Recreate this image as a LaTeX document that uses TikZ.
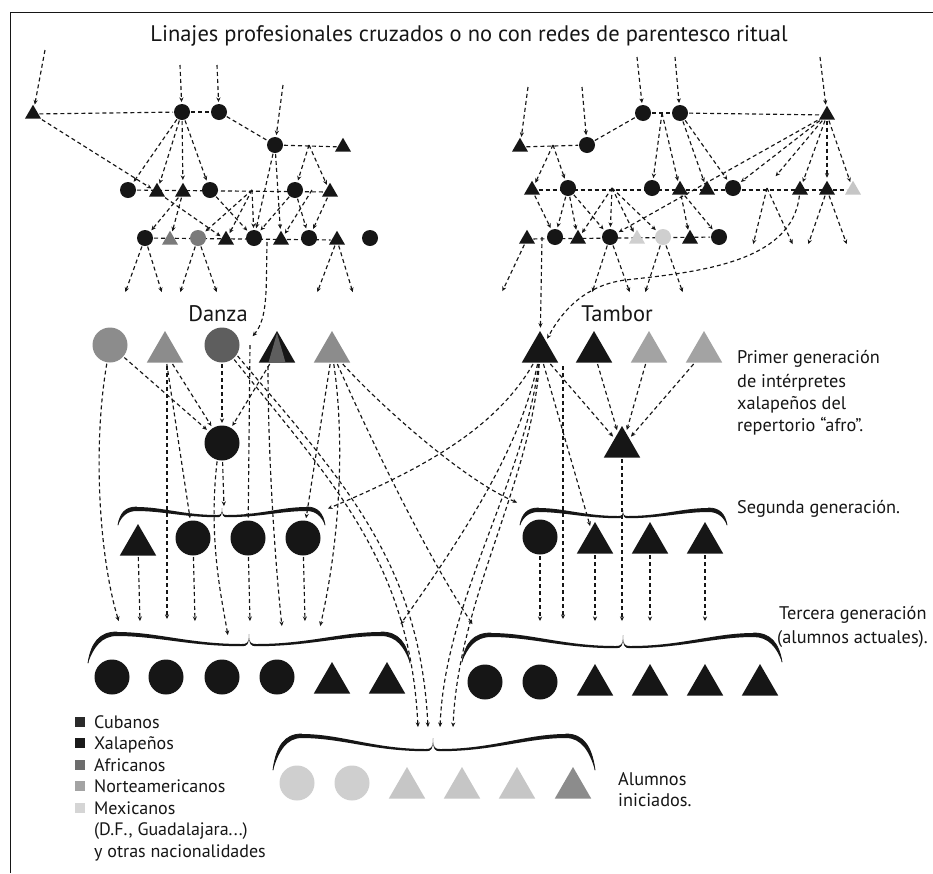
\documentclass[tikz,border=0pt]{standalone}
\usepackage{fontspec}
\setmainfont{PT Sans}
\usetikzlibrary{arrows.meta,shapes.geometric}
\pgfdeclarelayer{bg}
\pgfsetlayers{bg,main}
\definecolor{blk}{HTML}{161616}
\definecolor{gA}{HTML}{8C8C8C}
\definecolor{gB}{HTML}{5E5E5E}
\definecolor{gC}{HTML}{A3A3A3}
\definecolor{gD}{HTML}{CFCFCF}
\definecolor{gE}{HTML}{7A7A7A}
\definecolor{gF}{HTML}{C6C6C6}
\definecolor{kcu}{HTML}{2A2A2A}
\definecolor{kxa}{HTML}{1A1A1A}
\definecolor{kaf}{HTML}{6D6D6D}
\definecolor{kno}{HTML}{A3A3A3}
\definecolor{kme}{HTML}{D5D5D5}
\newcommand\hbr[6]{%
 \pgfmathsetmacro\bdx{#2-(#1)}%
 \pgfmathsetmacro\bxa{#1+0.02*\bdx}%
 \pgfmathsetmacro\bya{#3+0.35*(#6-#3)}%
 \pgfmathsetmacro\bxb{#1+0.07*\bdx}%
 \pgfmathsetmacro\bxaa{#1+0.035*\bdx}%
 \pgfmathsetmacro\byaa{#3+0.42*(#6-#3)+2}%
 \pgfmathsetmacro\bxbb{#1+0.085*\bdx}%
 \pgfmathsetmacro\bxs{#1+0.18*\bdx}%
 \pgfmathsetmacro\bxc{\bxs+0.3*(#2-\bxs)}%
 \pgfmathsetmacro\bxd{#2-0.45*(#2-\bxs)}%
 \pgfmathsetmacro\bxm{#2-0.045*\bdx}%
 \pgfmathsetmacro\bxe{#2-0.012*\bdx}%
 \pgfmathsetmacro\bys{#3+4}%
 \pgfmathsetmacro\bym{#4+2.2}%
 \pgfmathsetmacro\bymu{#4-1}%
 \pgfmathsetmacro\bymd{#4+1}%
 \fill[blk] (#1,#6) .. controls (\bxa,\bya) and (\bxb,#3) .. (\bxs,#3)
  .. controls (\bxc,#3) and (\bxd,#4) .. (\bxm,#4)
  .. controls (\bxe,#4) and (#2,\bymu) .. (#2,#5)
  .. controls (#2,\bymd) and (\bxe,\bym) .. (\bxm,\bym)
  .. controls (\bxd,\bym) and (\bxc,\bys) .. (\bxs,\bys)
  .. controls (\bxbb,\bys) and (\bxaa,\byaa) .. (#1,#6) -- cycle;
 \draw[blk,line width=0.8pt,line cap=round] (#1,#6) .. controls (\bxa,\bya) and (\bxb,#3) .. (\bxs,#3);
}
\tikzset{
 ln/.style={draw=blk,line width=1.15pt,dash pattern=on 4pt off 3pt},
 ar/.style={ln,-{Stealth[length=4.6pt,width=4.2pt]},shorten >=1pt},
 sc/.style={circle,fill=blk,minimum size=16pt,inner sep=0pt,outer sep=1pt},
 st/.style={regular polygon,regular polygon sides=3,fill=blk,minimum size=18.5pt,inner sep=0pt,outer sep=1pt},
 bc/.style={circle,fill=blk,minimum size=35pt,inner sep=0pt,outer sep=1.5pt},
 bt/.style={regular polygon,regular polygon sides=3,fill=blk,minimum size=42pt,inner sep=0pt,outer sep=1.5pt},
 big/.style={font=\fontsize{22.5}{26}\selectfont,inner sep=0pt,text=blk,anchor=base},
 lab/.style={font=\fontsize{18.3}{22}\selectfont,inner sep=0pt,text=blk,anchor=base west},
 leg/.style={font=\fontsize{18}{21}\selectfont,inner sep=0pt,text=blk,anchor=base west},
 sqk/.style={minimum size=10pt,inner sep=0pt},
}
\begin{document}
\begin{tikzpicture}[x=1pt,y=-1pt]
\useasboundingbox (0,0) rectangle (933,873);
\begin{pgfonlayer}{bg}
\fill[white] (0,0) rectangle (933,873);
\end{pgfonlayer}
\draw[blk,line width=1pt] (10,873) -- (10,12) -- (933,12);
\node[big] (title) at (469,41) {Linajes profesionales cruzados o no con redes de parentesco ritual};
% ---------- top-left lineages
\node[st] (tA) at (33,114) {};
\node[sc] (cA1) at (182,112) {};
\node[sc] (cA2) at (219,112) {};
\node[sc] (cB) at (275,145) {};
\node[st] (tB) at (343,147) {};
\node[sc] (l2a) at (128,190) {};
\node[st] (l2b) at (157,192) {};
\node[st] (l2c) at (183,192) {};
\node[sc] (l2d) at (210,190) {};
\node[sc] (l2e) at (295,190) {};
\node[st] (l2f) at (330,192) {};
\node[sc] (l3a) at (145,238) {};
\node[st,fill=gE] (l3b) at (170,240) {};
\node[sc,fill=gE] (l3c) at (198,238) {};
\node[st] (l3d) at (226,240) {};
\node[sc] (l3e) at (254,238) {};
\node[st] (l3f) at (281,240) {};
\node[sc] (l3g) at (309,238) {};
\node[st] (l3h) at (337,240) {};
\node[sc] (l3i) at (370,238) {};
% ---------- top-right lineages
\node[sc] (rA1) at (643,113) {};
\node[sc] (rA2) at (680,113) {};
\node[st] (rAt) at (827,115) {};
\node[st] (rB1) at (520,147) {};
\node[sc] (rB2) at (587,145) {};
\node[st] (r2a) at (532,190) {};
\node[sc] (r2b) at (568,188) {};
\node[sc] (r2c) at (652,188) {};
\node[st] (r2d) at (680,190) {};
\node[st] (r2e) at (707,190) {};
\node[sc] (r2f) at (733,188) {};
\node[st] (r2g) at (800,190) {};
\node[st] (r2h) at (827,190) {};
\node[st,fill=gF] (r2i) at (853,190) {};
\node[st] (r3a) at (527,239) {};
\node[sc] (r3b) at (555,237) {};
\node[st] (r3c) at (578,239) {};
\node[sc] (r3d) at (610,237) {};
\node[st,fill=gD] (r3e) at (637,239) {};
\node[sc,fill=gD] (r3f) at (663,237) {};
\node[st] (r3g) at (690,239) {};
\node[sc] (r3h) at (719,237) {};
% ---------- first generation
\node[big] (danza) at (218,321) {Danza};
\node[big] (tambor) at (617,321) {Tambor};
\node[bc,fill=gA] (d1) at (110,345) {};
\node[bt,fill=gA] (d2) at (165,352) {};
\node[bc,fill=gB] (d3) at (222,345) {};
\node[bt] (d4) at (277,352) {};
\fill[gB] (277,333) -- (268.5,362.5) -- (285.5,362.5) -- cycle;
\node[bt,fill=gA] (d5) at (332,352) {};
\node[bc] (dm) at (222,443) {};
\node[bt] (m1) at (540,352) {};
\node[bt] (m2) at (594,352) {};
\node[bt,fill=gC] (m3) at (649,352) {};
\node[bt,fill=gC] (m4) at (704,352) {};
\node[bt] (mm) at (622,447) {};
% ---------- second generation
\node[bt] (s1) at (138,545) {};
\node[bc] (s2) at (193,538) {};
\node[bc] (s3) at (248,538) {};
\node[bc] (s4) at (303,538) {};
\node[bc] (s5) at (540,537) {};
\node[bt] (s6) at (595,543) {};
\node[bt] (s7) at (650,543) {};
\node[bt] (s8) at (705,543) {};
% ---------- third generation
\node[bc] (t1) at (112,677) {};
\node[bc] (t2) at (166,677) {};
\node[bc] (t3) at (222,677) {};
\node[bc] (t4) at (277,677) {};
\node[bt] (t5) at (332,683) {};
\node[bt] (t6) at (387,683) {};
\node[bc] (t7) at (485,682) {};
\node[bc] (t8) at (540,682) {};
\node[bt] (t9) at (595,685) {};
\node[bt] (t10) at (650,685) {};
\node[bt] (t11) at (705,685) {};
\node[bt] (t12) at (760,685) {};
% ---------- initiated students
\node[bc,fill=gD] (a1) at (297,783) {};
\node[bc,fill=gD] (a2) at (352,783) {};
\node[bt,fill=gF] (a3) at (407,788) {};
\node[bt,fill=gF] (a4) at (462,788) {};
\node[bt,fill=gF] (a5) at (517,788) {};
\node[bt,fill=gA] (a6) at (573,788) {};
% ---------- braces
\hbr{118}{222}{507}{515}{508}{525}\hbr{325}{222}{507}{515}{508}{525}
\hbr{520}{623}{508}{516}{510}{525}\hbr{727}{623}{508}{516}{510}{525}
\hbr{88}{249}{632}{644}{634}{663}\hbr{410}{249}{632}{644}{634}{663}
\hbr{462}{623}{633}{646}{635}{662}\hbr{782}{623}{633}{646}{635}{662}
\hbr{273}{433}{734}{749}{738}{770}\hbr{595}{433}{734}{749}{738}{770}
% ---------- labels
\node[lab] (p1) at (737,363) {Primer generación};
\node[lab] (p2) at (737,387) {de intérpretes};
\node[lab] (p3) at (737,409) {xalapeños del};
\node[lab] (p4) at (737,431) {repertorio “afro”.};
\node[lab] (sg) at (737,513) {Segunda generación.};
\node[lab] (tg1) at (779,619) {Tercera generación};
\node[lab] (tg2) at (777,643) {(alumnos actuales).};
\node[lab] (al1) at (618,785) {Alumnos};
\node[lab] (al2) at (618,806) {iniciados.};
% ---------- legend
\node[sqk,fill=kcu] (k1) at (80,722) {};
\node[sqk,fill=kxa] (k2) at (80,743) {};
\node[sqk,fill=kaf] (k3) at (80,765) {};
\node[sqk,fill=kno] (k4) at (80,786) {};
\node[sqk,fill=kme] (k5) at (80,808) {};
\node[leg] (k1t) at (94,728) {Cubanos};
\node[leg] (k2t) at (94,749) {Xalapeños};
\node[leg] (k3t) at (94,771) {Africanos};
\node[leg] (k4t) at (94,792) {Norteamericanos};
\node[leg] (k5t) at (94,814) {Mexicanos};
\node[leg] (k6t) at (94,835) {(D.F., Guadalajara...)};
\node[leg] (k7t) at (94,857) {y otras nacionalidades};
% ---------- connectors
\begin{pgfonlayer}{bg}
% top-left
\coordinate (iA) at (45,50);
\coordinate (iA1) at (180,65);
\coordinate (iA2) at (217,65);
\coordinate (iB) at (283,85);
\draw[ar] (iA) -- (tA);
\draw[ar] (iA1) -- (cA1);
\draw[ar] (iA2) -- (cA2);
\draw[ar] (iB) -- (cB);
\draw[ln] (tA) -- (cA1);
\draw[ln] (cA1) -- (cA2);
\draw[ln] (cA2) -- (cB);
\draw[ln] (cB) -- (tB);
\draw[ar] (tA) -- (l2b);
\draw[ar] (cA1) -- (l2a);
\draw[ar] (cA1) -- (l2b);
\draw[ar] (cA1) -- (l2c);
\draw[ar] (cA1) -- (l2d);
\coordinate (mB) at (309,145);
\draw[ar] (mB) -- (l2e);
\draw[ar] (mB) -- (l2f);
\draw[ar] (cB) -- (l3e);
\draw[ar] (cB) -- (l3f);
\draw[ln] (l2a) -- (l2f);
\draw[ln] (l3a) -- (l3h);
\draw[ar] (l2c) -- (l3a);
\draw[ar] (l2c) -- (l3b);
\draw[ar] (l2b) -- (l3d);
\draw[ar] (l2d) -- (l3e);
\coordinate (m2b) at (252,190);
\draw[ar] (m2b) -- (l3c);
\draw[ar] (m2b) -- (l3d);
\draw[ar] (m2b) -- (l3e);
\draw[ar] (l2e) -- (l3e);
\draw[ar] (l2e) -- (l3g);
\draw[ar] (l2f) -- (l3g);
\coordinate (m2e) at (312,190);
\draw[ar] (m2e) -- (l3f);
\coordinate (oL1) at (125,293);
\coordinate (oL2) at (162,293);
\coordinate (oL3) at (180,293);
\coordinate (oL4) at (217,293);
\coordinate (oL5) at (317,293);
\coordinate (oL6) at (353,293);
\draw[ar] (l3a) -- (oL1);
\draw[ar] (l3a) -- (oL2);
\draw[ar] (l3c) -- (oL3);
\draw[ar] (l3c) -- (oL4);
\draw[ar] (l3h) -- (oL5);
\draw[ar] (l3h) -- (oL6);
\coordinate (m3e) at (267,242);
\coordinate (kD) at (252,337);
\draw[ar] (m3e) .. controls (266,290) and (268,318) .. (kD);
% top-right
\coordinate (iR1) at (637,57);
\coordinate (iR2) at (675,57);
\coordinate (iR3) at (820,57);
\coordinate (iR4) at (528,87);
\coordinate (iR5) at (582,87);
\draw[ar] (iR1) -- (rA1);
\draw[ar] (iR2) -- (rA2);
\draw[ar] (iR3) -- (rAt);
\draw[ar] (iR4) -- (rB1);
\draw[ar] (iR5) -- (rB2);
\draw[ln] (rA1) -- (rA2);
\draw[ln] (rA2) -- (rAt);
\draw[ln] (rB2) -- (rA1);
\draw[ln] (rB1) -- (rB2);
\coordinate (mR1) at (553,145);
\draw[ar] (mR1) -- (r2a);
\draw[ar] (mR1) -- (r2b);
\coordinate (mR2) at (662,113);
\draw[ar] (mR2) -- (r2c);
\draw[ar] (mR2) -- (r2d);
\draw[ar] (rA2) -- (r2e);
\draw[ar] (rA2) -- (r2f);
\coordinate (oR0) at (775,177);
\draw[ar] (rAt) -- (r2f);
\draw[ar] (rAt) -- (oR0);
\draw[ar] (rAt) -- (r2g);
\draw[ar] (rAt) -- (r2h);
\draw[ar] (rAt) -- (r2i);
\draw[ar] (rAt) -- (r3d);
\draw[ln] (r2a) -- (r2i);
\draw[ln] (r3a) -- (r3h);
\draw[ar] (r2a) -- (r3b);
\draw[ar] (r2b) -- (r3b);
\draw[ar] (r2b) -- (r3c);
\draw[ar] (r2b) -- (r3d);
\coordinate (mR3) at (612,188);
\draw[ar] (mR3) -- (r3c);
\draw[ar] (mR3) -- (r3d);
\draw[ar] (mR3) -- (r3e);
\draw[ar] (mR3) -- (r3f);
\draw[ar] (r2d) -- (r3g);
\draw[ar] (r2d) -- (r3h);
\coordinate (mR4) at (767,188);
\coordinate (oR1) at (753,245);
\coordinate (oR2) at (793,245);
\coordinate (oR3) at (808,245);
\coordinate (oR4) at (847,245);
\draw[ar] (mR4) -- (oR1);
\draw[ar] (mR4) -- (oR2);
\draw[ar] (r2h) -- (oR3);
\draw[ar] (r2h) -- (oR4);
\coordinate (oR5) at (502,292);
\coordinate (oR6) at (592,293);
\coordinate (oR7) at (630,293);
\coordinate (oR8) at (645,293);
\coordinate (oR9) at (683,293);
\draw[ar] (r3a) -- (oR5);
\draw[ar] (r3d) -- (oR6);
\draw[ar] (r3d) -- (oR7);
\draw[ar] (r3f) -- (oR8);
\draw[ar] (r3f) -- (oR9);
\coordinate (mR5) at (542,237);
\draw[ar] (mR5) -- (m1);
\draw[ar] (r2g) .. controls (792,262) and (700,272) .. (625,280) .. controls (595,284) and (568,300) .. (m1);
% first generation, Danza
\coordinate (bL1) at (119,622);
\draw[ar] (d1) .. controls (92,450) and (100,560) .. (bL1);
\draw[ar] (d1) -- (dm);
\coordinate (d2b) at (167,366);
\coordinate (bL2) at (167,620);
\draw[ar] (d2b) -- (bL2);
\draw[ar] (d2) -- (s2);
\draw[ar] (d2) -- (dm);
\draw[ar] (d3) -- (dm);
\draw[ar] (d4) -- (dm);
\coordinate (kD2) at (250,345);
\draw[ar] (kD2) -- (s3);
\coordinate (aL1) at (418,728);
\coordinate (aL2) at (428,728);
\coordinate (aR1) at (440,728);
\coordinate (aR2) at (453,728);
\draw[ar] (d3.-50) .. controls (330,480) and (410,560) .. (aL1);
\draw[ar] (d3.-35) .. controls (340,478) and (420,560) .. (aL2);
\coordinate (d4b) at (268,366);
\coordinate (bL3) at (282,627);
\draw[ar] (d4b) .. controls (268,450) and (274,550) .. (bL3);
\coordinate (bR1) at (473,625);
\draw[ar] (d5) .. controls (380,460) and (430,560) .. (bR1);
\draw[ar] (d5) -- (s4);
\coordinate (bL4) at (320,627);
\draw[ar] (d5) .. controls (345,440) and (340,540) .. (bL4);
\coordinate (bR2) at (518,503);
\draw[ar] (d5) .. controls (375,400) and (460,478) .. (bR2);
\coordinate (bL5) at (224,507);
\draw[ar] (dm) -- (bL5);
\coordinate (bL6) at (228,636);
\draw[ar] (dm.-105) .. controls (208,540) and (222,600) .. (bL6);
% first generation, Tambor
\coordinate (bL7) at (327,509);
\draw[ar] (m1) .. controls (495,430) and (420,470) .. (bL7);
\coordinate (bL8) at (400,625);
\draw[ar] (m1) .. controls (520,450) and (460,540) .. (bL8);
\draw[ar] (m1) .. controls (525,480) and (445,600) .. (aR1);
\draw[ar] (m1) .. controls (532,480) and (458,600) .. (aR2);
\coordinate (m1r) at (563,366);
\coordinate (bR3) at (563,620);
\draw[ar] (m1r) -- (bR3);
\draw[ar] (m1) -- (s6);
\draw[ar] (m1) -- (mm);
\draw[ar] (m2) -- (mm);
\draw[ar] (m3) -- (mm);
\draw[ar] (m4) -- (mm);
\coordinate (bR4) at (622,622);
\draw[ar] (mm) -- (bR4);
% second generation
\coordinate (bS1) at (140,622);
\coordinate (bS2) at (195,622);
\coordinate (bS3) at (250,622);
\coordinate (bS4) at (305,622);
\coordinate (bS5) at (540,622);
\coordinate (bS6) at (595,622);
\coordinate (bS7) at (650,622);
\coordinate (bS8) at (705,622);
\draw[ar] (s1) -- (bS1);
\draw[ar] (s2) -- (bS2);
\draw[ar] (s3) -- (bS3);
\draw[ar] (s4) -- (bS4);
\draw[ar] (s5) -- (bS5);
\draw[ar] (s6) -- (bS6);
\draw[ar] (s7) -- (bS7);
\draw[ar] (s8) -- (bS8);
\end{pgfonlayer}
\end{tikzpicture}
\end{document}
